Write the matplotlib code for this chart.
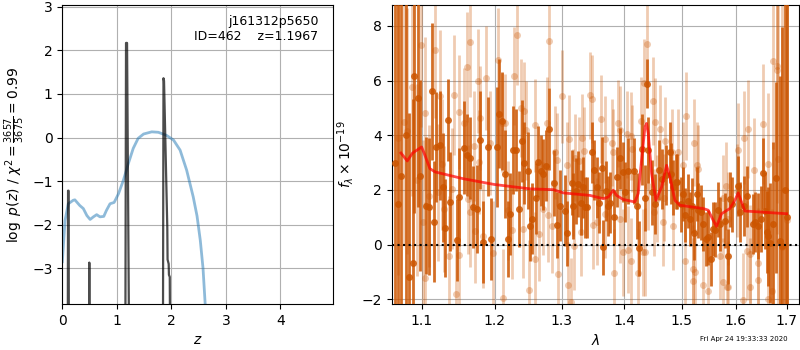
import matplotlib
matplotlib.use('Agg')
import matplotlib.pyplot as plt
from matplotlib.ticker import NullLocator, FixedFormatter, FixedLocator

# left panel: log p(z) from the fit (blue) and from chi2 (black spikes)
z_fit = [0.0, 0.05, 0.11, 0.20, 0.23, 0.32, 0.385, 0.45, 0.51, 0.57, 0.63, 0.69, 0.76, 0.81,
         0.875, 0.95, 1.03, 1.12, 1.21, 1.30, 1.39, 1.49, 1.64, 1.76, 1.91, 2.04, 2.16,
         2.28, 2.40, 2.47, 2.53, 2.58, 2.62, 2.70]
lnp_fit = [-2.85, -1.90, -1.52, -1.44, -1.43, -1.56, -1.63, -1.79, -1.88, -1.82, -1.77, -1.82,
           -1.81, -1.67, -1.52, -1.49, -1.29, -0.98, -0.60, -0.25, -0.02, 0.08, 0.13, 0.12,
           0.05, -0.06, -0.29, -0.75, -1.36, -1.80, -2.36, -3.00, -3.83, -4.60]

z_chi = [0.095, 0.105, 0.115, 0.125, 0.48, 0.495, 0.51, 1.150, 1.168, 1.187, 1.242,
         1.840, 1.855, 1.865, 1.925, 1.93, 1.95, 1.955, 1.97, 1.99]
lnp_chi = [-8.0, -1.22, -1.22, -8.0, -8.0, -2.87, -8.0, -8.0, 2.17, 2.17, -8.0,
           -8.0, 1.36, 1.30, -2.07, -2.80, -2.90, -3.15, -3.20, -8.0]

# right panel: spectrum, dark points
dark_lam = [1.0650, 1.0685, 1.0728, 1.0792, 1.0835, 1.0878, 1.0900, 1.0943, 1.0978, 1.1048,
            1.1088, 1.1128, 1.1163, 1.1190, 1.1239, 1.1275, 1.1311, 1.1342, 1.1378, 1.1464,
            1.1497, 1.1570, 1.1607, 1.1648, 1.1695, 1.1742, 1.1789, 1.1835, 1.1906, 1.1944,
            1.2035, 1.2064, 1.2098, 1.2146, 1.2194, 1.2218, 1.2267, 1.2311, 1.2355, 1.2389,
            1.2429, 1.2478, 1.2513, 1.2548, 1.2598, 1.2638, 1.2673, 1.2713, 1.2749, 1.2805,
            1.2881, 1.2927, 1.2970, 1.3048, 1.3084, 1.3152, 1.3178, 1.3220, 1.3257, 1.3294,
            1.3336, 1.3362, 1.3399, 1.3469, 1.3506, 1.3549, 1.3592, 1.3630, 1.3657, 1.3701,
            1.3739, 1.3766, 1.3832, 1.3876, 1.3931, 1.3976, 1.4020, 1.4071, 1.4166, 1.4211,
            1.4256, 1.4296, 1.4355, 1.4383, 1.4400, 1.4469, 1.4527, 1.4602, 1.4643, 1.4713,
            1.4789, 1.4806, 1.4848, 1.4889, 1.4919, 1.4984, 1.5026, 1.5056, 1.5116, 1.5146,
            1.5176, 1.5225, 1.5267, 1.5298, 1.5340, 1.5389, 1.5438, 1.5481, 1.5524, 1.5573,
            1.5604, 1.5654, 1.5704, 1.5792, 1.5842, 1.5886, 1.5918, 1.6045, 1.6077, 1.6160,
            1.6205, 1.6335, 1.6367, 1.6433, 1.6485, 1.6518, 1.6564, 1.6597, 1.6630, 1.6663,
            1.6730, 1.6783, 1.6864, 1.6911, 1.6965, 1.6999]
dark_flux = [3.00, 1.50, 2.50, 4.00, -1.19, -0.67, 6.16, 5.37, 2.52, 1.42,
             1.39, 5.61, 0.84, 3.57, 3.63, 2.09, 0.60, 4.54, 1.57, 0.17,
             1.75, 3.55, 3.28, 3.18, 1.36, 1.30, 3.83, 0.09, 3.58, 0.21,
             3.58, 4.79, 4.52, 2.58, 0.21, 1.12, 3.46, 3.46, 1.30, 3.79,
             3.00, 2.70, 0.69, 0.94, 1.69, 3.03, 2.70, 2.58, 2.88, 4.24,
             2.25, 0.72, 1.42, 1.24, 0.41, 2.27, 1.42, 1.97, 2.21, 1.54,
             2.09, 1.36, 1.36, 3.37, 2.73, 2.09, 1.54, 2.82, -0.10, 1.97,
             1.42, 1.54, 1.00, 2.46, 3.15, 2.66, 1.91, 2.70, 2.70, 1.42,
             -0.13, 3.49, 1.70, 5.89, 3.45, 1.91, 1.48, 2.72, 2.39, 2.54,
             3.37, 2.60, 2.09, 2.30, 2.30, 1.48, 1.85, 1.08, 1.60, 0.94,
             1.42, 0.43, 1.85, 1.26, 1.18, 0.75, 0.21, 0.27, -0.52, 0.57,
             0.55, 1.28, 0.75, 0.87, -0.43, 1.66, 1.48, 2.15, 1.18, 1.42,
             1.76, 0.75, 0.84, 0.69, 0.94, 2.61, 1.24, 0.45, 0.30, 0.06,
             0.75, 2.45, 0.15, -0.04, 2.00, 1.00]
dark_err = [9.0, 9.0, 8.0, 7.0, 6.0, 6.0, 5.0, 4.0, 3.5, 2.5,
            2.5, 2.5, 2.2, 2.0, 2.0, 2.0, 1.8, 1.5, 1.8, 1.5,
            1.8, 1.7, 1.5, 1.5, 1.5, 1.6, 1.8, 1.5, 1.8, 1.5,
            2.2, 2.0, 1.8, 1.6, 1.4, 1.5, 1.6, 1.5, 1.4, 1.5,
            1.5, 1.4, 1.3, 1.3, 1.3, 1.3, 1.3, 1.3, 1.3, 1.5,
            1.2, 1.2, 1.3, 1.3, 1.2, 1.2, 1.2, 1.2, 1.2, 1.2,
            1.1, 1.1, 1.1, 1.1, 1.1, 1.1, 1.1, 1.1, 1.0, 1.1,
            1.1, 1.1, 1.0, 1.1, 1.1, 1.1, 1.1, 1.2, 1.2, 1.2,
            1.0, 1.3, 1.2, 0.9, 1.2, 1.2, 1.1, 1.1, 1.1, 1.1,
            1.1, 1.1, 1.0, 1.0, 1.0, 1.0, 1.0, 1.0, 1.0, 1.0,
            1.0, 1.0, 1.0, 1.0, 1.0, 1.0, 1.0, 1.0, 1.0, 1.0,
            1.0, 1.0, 1.0, 1.0, 1.0, 1.0, 1.0, 1.1, 1.1, 1.1,
            1.1, 1.1, 1.1, 1.2, 1.2, 1.3, 1.4, 1.5, 1.8, 2.2,
            3.0, 3.5, 6.0, 8.0, 10.0, 10.0]

# light points
light_lam = [1.0694, 1.0770, 1.0805, 1.0865, 1.0930, 1.0987, 1.1009, 1.1039, 1.1044, 1.1097,
             1.1176, 1.1208, 1.1235, 1.1266, 1.1297, 1.1365, 1.1401, 1.1433, 1.1460, 1.1497,
             1.1501, 1.1561, 1.1603, 1.1616, 1.1644, 1.1650, 1.1700, 1.1718, 1.1756, 1.1774,
             1.1789, 1.1826, 1.1869, 1.1930, 1.1977, 1.2050, 1.2107, 1.2121, 1.2146, 1.2194,
             1.2252, 1.2282, 1.2326, 1.2380, 1.2414, 1.2429, 1.2449, 1.2498, 1.2588, 1.2592,
             1.2654, 1.2713, 1.2764, 1.2789, 1.2805, 1.2851, 1.2892, 1.2918, 1.2933, 1.2995,
             1.3073, 1.3099, 1.3115, 1.3141, 1.3178, 1.3188, 1.3204, 1.3272, 1.3294, 1.3310,
             1.3352, 1.3443, 1.3475, 1.3496, 1.3560, 1.3619, 1.3685, 1.3690, 1.3794, 1.3821,
             1.3838, 1.3893, 1.3931, 1.3935, 1.3987, 1.4043, 1.4071, 1.4110, 1.4115, 1.4127,
             1.4240, 1.4285, 1.4324, 1.4336, 1.4355, 1.4383, 1.4412, 1.4498, 1.4515, 1.4527,
             1.4556, 1.4614, 1.4661, 1.4690, 1.4701, 1.4819, 1.4848, 1.4925, 1.5026, 1.5056,
             1.5074, 1.5206, 1.5210, 1.5225, 1.5237, 1.5267, 1.5298, 1.5389, 1.5481, 1.5698,
             1.5748, 1.5761, 1.5805, 1.5830, 1.5855, 1.5860, 1.6013, 1.6045, 1.6141, 1.6160,
             1.6205, 1.6225, 1.6270, 1.6275, 1.6354, 1.6420, 1.6433, 1.6531, 1.6630, 1.6635,
             1.6696, 1.6716, 1.6810, 1.6815, 1.6830, 1.6897, 1.6999]
light_flux = [3.90, 4.48, 4.14, 5.76, 2.37, 7.31, 0.84, 4.80, -1.23, 1.79,
              7.13, 1.91, 5.43, 2.94, 1.30, -0.43, 2.05, 5.46, -1.82, -0.38,
              4.85, 4.46, 6.49, 1.66, 7.40, 1.18, 3.60, 0.51, 5.98, 3.03,
              4.64, 0.30, 6.09, 3.73, -0.30, 6.74, 4.46, -1.96, 4.43, 1.25,
              0.55, 6.16, 7.65, 5.00, 0.59, 4.88, 4.18, -1.64, 4.37, -0.52,
              0.38, 1.31, 4.43, 1.07, 7.44, 0.67, 3.37, 3.10, -1.07, 5.43,
              2.90, -1.49, 3.88, -2.08, 1.91, -0.06, 3.18, 3.06, 0.45, 3.91,
              3.43, 5.46, 5.33, 0.72, 0.84, 4.60, 3.85, 1.12, 3.73, 3.37,
              -1.03, 4.43, 4.19, 0.94, -0.28, 4.03, -0.18, 3.97, -0.61, 3.51,
              -1.03, 4.52, -0.28, 5.92, -0.26, 7.35, 2.15, 5.25, 1.18, 4.48,
              1.68, 4.22, 0.81, 1.72, 3.79, 3.37, 0.69, 3.37, 2.90, -0.58,
              4.70, -0.89, -1.34, 3.73, -1.01, 2.90, 2.76, -1.49, -1.68, -0.40,
              -1.37, 1.69, 2.15, -1.53, 0.94, -1.56, 1.97, 3.46, -2.02, 3.91,
              -0.22, 4.22, -0.34, -1.56, 2.73, -1.28, -0.67, 4.40, 2.94, -1.98,
              -1.71, 6.71, 6.52, 6.40, 3.12, -0.10, 0.91]
light_err = [5.0, 4.5, 4.5, 4.0, 3.5, 3.0, 3.0, 2.8, 2.8, 2.6,
             2.5, 2.5, 2.4, 2.4, 2.3, 2.2, 2.2, 2.2, 2.1, 2.1,
             2.1, 2.0, 2.0, 2.0, 2.0, 2.0, 2.0, 1.9, 1.9, 1.9,
             1.9, 1.9, 1.9, 1.9, 1.9, 1.9, 1.8, 1.8, 1.8, 1.8,
             1.8, 1.8, 1.8, 1.8, 1.8, 1.8, 1.8, 1.8, 1.7, 1.7,
             1.7, 1.7, 1.7, 1.7, 1.7, 1.7, 1.7, 1.7, 1.7, 1.7,
             1.6, 1.6, 1.6, 1.6, 1.6, 1.6, 1.6, 1.6, 1.6, 1.6,
             1.6, 1.6, 1.6, 1.6, 1.6, 1.6, 1.6, 1.6, 1.6, 1.6,
             1.6, 1.6, 1.6, 1.6, 1.6, 1.6, 1.6, 1.6, 1.6, 1.6,
             1.6, 1.6, 1.6, 1.6, 1.6, 1.6, 1.6, 1.6, 1.6, 1.6,
             1.6, 1.6, 1.6, 1.6, 1.6, 1.6, 1.6, 1.6, 1.6, 1.6,
             1.6, 1.6, 1.6, 1.6, 1.6, 1.6, 1.6, 1.6, 1.6, 1.6,
             1.6, 1.6, 1.6, 1.6, 1.7, 1.7, 1.7, 1.7, 1.7, 1.7,
             1.8, 1.8, 1.8, 1.8, 1.9, 2.0, 2.0, 2.2, 2.6, 2.6,
             3.0, 3.2, 5.0, 6.0, 7.0, 9.0, 10.0]

# red model
model_lam = [1.0728, 1.0809, 1.0878, 1.0996, 1.1031, 1.1105, 1.1172, 1.1556, 1.1992, 1.2513,
             1.2867, 1.2970, 1.3026, 1.3443, 1.3657, 1.3739, 1.3822, 1.3876, 1.3988, 1.4183,
             1.4240, 1.4297, 1.4355, 1.4383, 1.4412, 1.4469, 1.4544, 1.4643, 1.4730, 1.4789,
             1.4878, 1.4967, 1.5389, 1.5481, 1.5573, 1.5635, 1.5729, 1.5886, 1.5981, 1.6045,
             1.6109, 1.6173, 1.6999]
model_flux = [3.35, 3.06, 3.35, 3.57, 3.33, 2.78, 2.66, 2.41, 2.20, 2.04,
              2.01, 1.93, 1.89, 1.80, 1.68, 1.74, 1.99, 1.80, 1.65, 1.56,
              1.87, 3.09, 4.30, 4.43, 4.06, 2.60, 1.62, 2.11, 2.90, 2.48,
              1.62, 1.44, 1.32, 1.26, 0.89, 0.67, 1.13, 1.32, 1.62, 1.89,
              1.56, 1.23, 1.13]

lam_ticks = [1.1, 1.2, 1.3, 1.4, 1.5, 1.6, 1.7]

orange = '#cc5500'

fig = plt.figure(figsize=(8, 3.5), dpi=100)
ax1 = fig.add_axes([0.0779, 0.1314, 0.3388, 0.8543])
ax2 = fig.add_axes([0.4896, 0.1314, 0.5096, 0.8543])

# p(z)
ax1.plot(z_fit, lnp_fit, color='#1f77b4', alpha=0.5, lw=2)
ax1.plot(z_chi, lnp_chi, color='k', alpha=0.7, lw=1.6)
ax1.set_xlim(0, 4.97)
ax1.set_ylim(-3.82, 3.04)
ax1.set_xticks([0, 1, 2, 3, 4])
ax1.set_yticks([-3, -2, -1, 0, 1, 2, 3])
ax1.grid(True)
ax1.set_xlabel('$z$')
ax1.set_ylabel(r'$\log\ p(z)$ / $\chi^2=\frac{3657}{3675}=0.99$')
ax1.text(0.945, 0.968, 'j161312p5650\nID=462    z=1.1967', transform=ax1.transAxes,
         ha='right', va='top', fontsize=9)

# spectrum
ax2.errorbar(light_lam, light_flux, yerr=light_err, color=orange, alpha=0.3,
             marker='o', ms=5, mew=0, linestyle='none', elinewidth=2, zorder=2)
ax2.errorbar(dark_lam, dark_flux, yerr=dark_err, color=orange, alpha=0.85,
             marker='o', ms=5, mew=0, linestyle='none', elinewidth=2, zorder=3)
ax2.plot(model_lam, model_flux, color='r', alpha=0.7, lw=2, zorder=4)
ax2.axhline(0, color='k', linestyle=':', lw=1.5, zorder=5)
ax2.set_xscale('log')
ax2.set_xlim(1.061, 1.726)
ax2.xaxis.set_major_locator(FixedLocator(lam_ticks))
ax2.xaxis.set_major_formatter(FixedFormatter([str(t) for t in lam_ticks]))
ax2.xaxis.set_minor_locator(NullLocator())
ax2.set_ylim(-2.17, 8.76)
ax2.set_yticks([-2, 0, 2, 4, 6, 8])
ax2.grid(True)
ax2.set_xlabel(r'$\lambda$')
ax2.set_ylabel(r'$f_\lambda\times10^{-19}$')

fig.text(0.985, 0.031, 'Fri Apr 24 19:33:33 2020', ha='right', va='center', fontsize=5)

fig.savefig('out.png', dpi=100)
